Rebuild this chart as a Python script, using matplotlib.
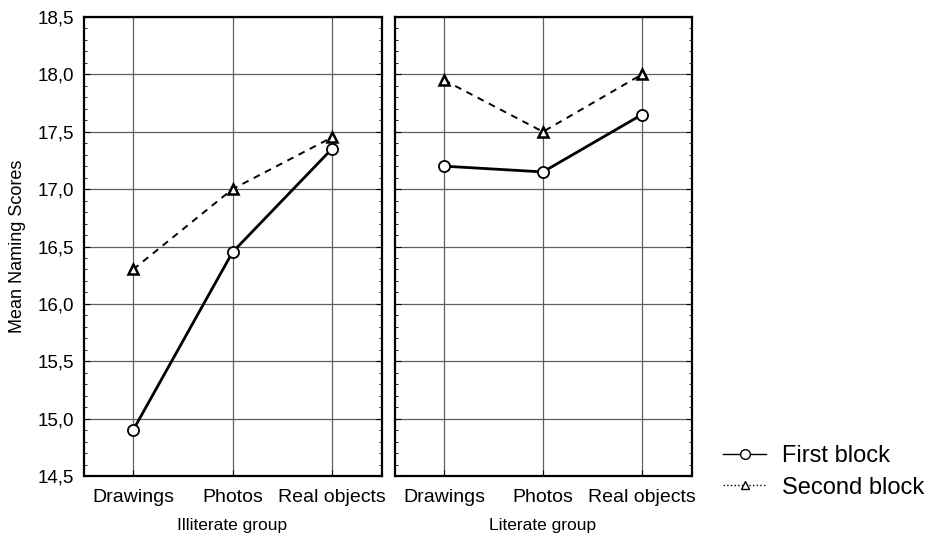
import numpy as np
import matplotlib
matplotlib.use("Agg")
import matplotlib.pyplot as plt
from matplotlib.ticker import FuncFormatter, MultipleLocator
from matplotlib.lines import Line2D

plt.rcParams['font.family'] = ['Liberation Sans', 'DejaVu Sans']

categories = ['Drawings', 'Photos', 'Real objects']
groups = ['Illiterate group', 'Literate group']
first_block = [[14.9, 16.45, 17.35], [17.2, 17.15, 17.65]]
second_block = [[16.3, 17.0, 17.45], [17.95, 17.5, 18.0]]

W, H = 932, 538
fig = plt.figure(figsize=(W / 100, H / 100), dpi=100)
# panel boxes in pixels: left, right, top, bottom
boxes = [(83.5, 381.5, 17, 476), (394.5, 691.5, 17, 476)]
axes = [fig.add_axes([l / W, 1 - b / H, (r - l) / W, (b - t) / H]) for l, r, t, b in boxes]

comma = FuncFormatter(lambda v, p: ('%.1f' % v).replace('.', ','))
x = np.arange(len(categories))

for i, ax in enumerate(axes):
    ax.plot(x, first_block[i], '-', color='black', lw=2, marker='o',
            ms=8, mfc='white', mec='black', mew=1.3, zorder=3)
    ax.plot(x, second_block[i], color='black', lw=1.4, marker='^',
            ms=7, mfc='white', mec='black', mew=1.8, dashes=(3.5, 3), zorder=3)
    ax.set_xlim(-0.5, 2.5)
    ax.set_ylim(14.5, 18.5)
    ax.set_xticks(x)
    ax.set_xticklabels(categories, fontsize=14)
    ax.yaxis.set_major_locator(MultipleLocator(0.5))
    ax.yaxis.set_minor_locator(MultipleLocator(0.1))
    ax.yaxis.set_major_formatter(comma)
    ax.grid(True, which='major', color='#606060', lw=0.9)
    ax.tick_params(axis='both', which='both', direction='in', right=True)
    ax.tick_params(axis='y', which='major', length=4, labelsize=13.5, pad=7)
    ax.tick_params(axis='y', which='minor', length=2.5)
    ax.tick_params(axis='x', which='major', length=4, pad=9)
    for s in ax.spines.values():
        s.set_linewidth(1.6)
    ax.set_xlabel(groups[i], fontsize=12.5, labelpad=9)

axes[1].tick_params(axis='y', labelleft=False)
axes[0].set_ylabel('Mean Naming Scores', fontsize=13, labelpad=8)

handles = [Line2D([], [], color='black', lw=1, marker='o', ms=7, mfc='white', mec='black'),
           Line2D([], [], color='black', lw=1, ls=':', marker='^', ms=6, mfc='white', mec='black')]
fig.legend(handles, ['First block', 'Second block'], loc='center left',
           bbox_to_anchor=(702 / W, 1 - 472 / H), frameon=False, fontsize=17,
           handlelength=1.8, handletextpad=0.7, labelspacing=0.4)

fig.savefig('out.png', dpi=100)
